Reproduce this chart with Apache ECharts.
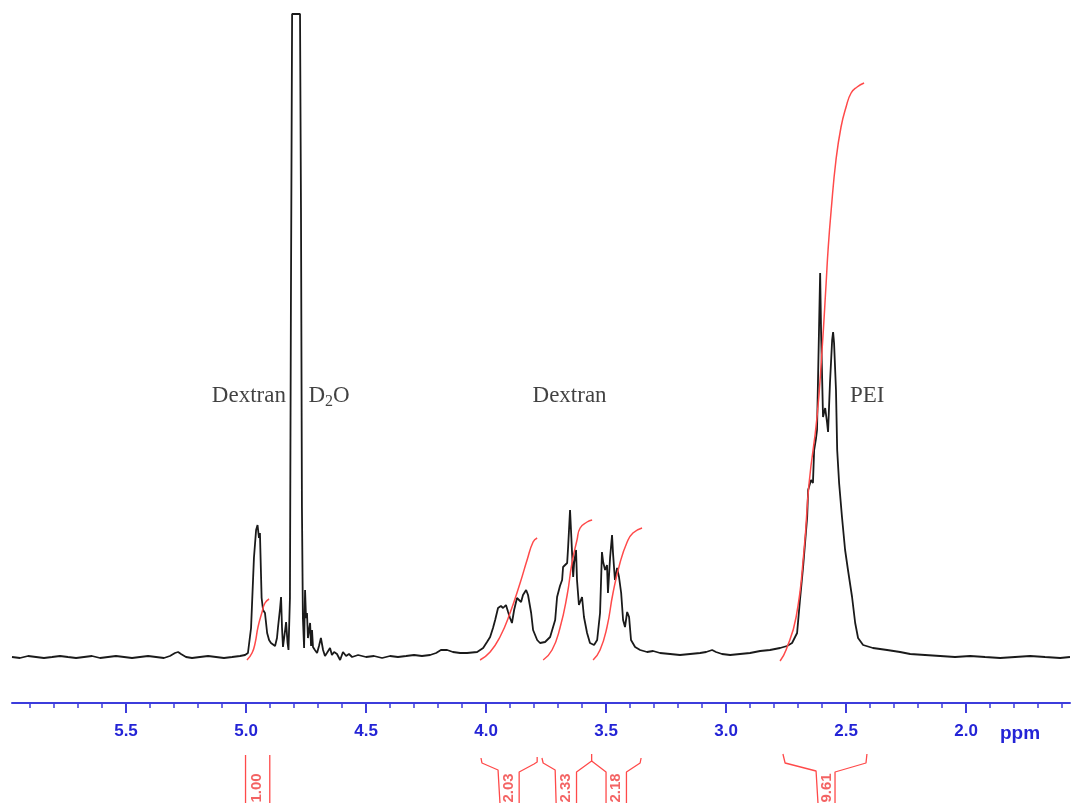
<!DOCTYPE html>
<html><head><meta charset="utf-8">
<script src="https://cdn.jsdelivr.net/npm/echarts@6/dist/echarts.min.js"></script>
<style>html,body{margin:0;padding:0;background:#fff}#c{width:1076px;height:803px}</style>
</head><body><div id="c"></div>
<script>
// chemical shift (ppm), intensity (arbitrary units, baseline = 0)
const spectrum = [
[5.975,1],[5.942,0],[5.908,2],[5.875,1],[5.842,0],[5.808,1],[5.775,2],[5.742,1],[5.708,0],[5.675,1],
[5.642,2],[5.608,0],[5.575,1],[5.542,2],[5.508,1],[5.475,0],[5.442,1],[5.408,2],[5.375,1],[5.342,0],
[5.317,2],[5.296,5],[5.283,6],[5.271,4],[5.250,1],[5.225,0],[5.192,1],[5.158,2],[5.125,1],[5.092,0],
[5.058,1],[5.025,2],[5.004,3],[4.992,5],[4.979,30],[4.967,100],[4.958,128],[4.952,133],[4.946,120],[4.942,125],
[4.935,60],[4.929,48],[4.921,45],[4.912,25],[4.904,18],[4.896,15],[4.888,17],[4.879,12],[4.871,20],[4.867,30],
[4.858,50],[4.854,61],[4.850,30],[4.846,11],[4.837,28],[4.833,36],[4.827,15],[4.823,8],[4.817,60],[4.813,350],
[4.808,644],[4.775,644],[4.771,450],[4.767,150],[4.763,40],[4.758,10],[4.754,68],[4.750,40],[4.746,45],[4.742,20],
[4.733,35],[4.729,12],[4.725,28],[4.721,11],[4.713,8],[4.704,5],[4.696,12],[4.688,20],[4.679,8],[4.671,2],
[4.663,5],[4.650,10],[4.642,3],[4.633,6],[4.621,4],[4.608,-2],[4.596,6],[4.583,2],[4.571,4],[4.558,1],
[4.533,3],[4.500,1],[4.467,2],[4.433,0],[4.400,2],[4.367,1],[4.333,2],[4.300,3],[4.267,2],[4.233,3],
[4.208,5],[4.188,8],[4.162,8],[4.138,6],[4.108,5],[4.079,5],[4.037,6],[4.012,10],[3.996,16],[3.983,21],
[3.971,30],[3.962,38],[3.950,50],[3.938,52],[3.929,50],[3.917,53],[3.908,46],[3.900,40],[3.892,35],[3.883,48],
[3.871,60],[3.854,56],[3.846,63],[3.833,68],[3.825,63],[3.812,45],[3.804,28],[3.787,18],[3.775,15],[3.754,16],
[3.733,21],[3.712,38],[3.704,61],[3.692,72],[3.683,78],[3.679,91],[3.671,90],[3.662,95],[3.658,111],[3.650,148],
[3.646,128],[3.637,81],[3.633,95],[3.625,108],[3.621,78],[3.613,53],[3.600,61],[3.592,41],[3.579,25],[3.567,15],
[3.550,13],[3.537,18],[3.525,45],[3.517,106],[3.512,96],[3.504,88],[3.496,93],[3.492,65],[3.483,101],[3.475,123],
[3.471,105],[3.463,78],[3.454,90],[3.446,81],[3.437,65],[3.429,38],[3.421,31],[3.412,46],[3.404,41],[3.396,18],
[3.379,11],[3.358,8],[3.329,6],[3.304,7],[3.275,5],[3.233,4],[3.192,3],[3.150,4],[3.108,5],[3.083,6],
[3.058,8],[3.042,6],[3.017,4],[2.983,3],[2.942,4],[2.900,5],[2.858,7],[2.817,8],[2.775,10],[2.746,12],
[2.725,15],[2.704,25],[2.692,58],[2.679,91],[2.662,141],[2.658,168],[2.646,178],[2.638,175],[2.633,208],[2.625,220],
[2.621,228],[2.613,325],[2.608,385],[2.604,325],[2.596,241],[2.587,250],[2.579,235],[2.575,226],[2.567,275],[2.558,318],
[2.554,326],[2.550,315],[2.542,268],[2.537,208],[2.529,175],[2.517,141],[2.504,108],[2.492,88],[2.475,61],[2.462,35],
[2.450,20],[2.429,13],[2.388,10],[2.329,8],[2.275,6],[2.233,4],[2.171,3],[2.108,2],[2.046,1],[1.983,2],
[1.921,1],[1.858,0],[1.796,1],[1.733,2],[1.671,1],[1.608,0],[1.567,1]
];
// integral curves (ppm, cumulative intensity)
const integral1 = [[4.996,-2],[4.975,5],[4.962,15],[4.950,31],[4.933,46],[4.921,55],[4.904,59]];
const integral2 = [[4.025,-2],[3.983,6],[3.942,21],[3.900,45],[3.858,75],[3.829,98],[3.804,116],[3.787,120]];
const integral3 = [[3.762,-2],[3.725,8],[3.692,30],[3.662,63],[3.642,95],[3.621,118],[3.608,130],[3.579,136],[3.558,138]];
const integral4 = [[3.554,-2],[3.525,8],[3.496,31],[3.471,65],[3.442,95],[3.412,116],[3.388,125],[3.350,130]];
const integral5 = [[2.775,-3],[2.750,8],[2.708,41],[2.675,108],[2.654,175],[2.621,241],[2.600,308],[2.583,375],[2.575,408],[2.562,448],[2.542,498],[2.521,531],[2.500,551],[2.479,565],[2.454,571],[2.425,575]];
// integration brackets below the axis
const brackets = [
  [[5.002,48],[5.002,0]], [[4.901,48],[4.901,0]],
  [[4.021,45],[4.017,40],[3.950,33],[3.942,31],[3.942,0]],
  [[3.862,0],[3.862,31],[3.800,39],[3.787,41],[3.787,46]],
  [[3.767,45],[3.762,40],[3.712,33],[3.708,31],[3.708,0]],
  [[3.623,0],[3.623,31],[3.560,42],[3.500,31],[3.500,0]],
  [[3.560,42],[3.560,49]],
  [[3.415,0],[3.415,31],[3.358,40],[3.354,45]],
  [[2.763,49],[2.754,40],[2.625,32],[2.617,31],[2.617,0]],
  [[2.546,0],[2.546,31],[2.417,40],[2.413,49]]
];
const integralValues = ['1.00','2.03','2.33','2.18','9.61'];
const integralLabelPpm = [4.954,3.906,3.667,3.458,2.581];
const annotations = ['Dextran','D{s|2}O','Dextran','PEI'];
const annotationPpm = [4.988,4.654,3.652,2.412];
const annotationY = [262,262,262,262];
const majorTicks = [5.5,5.0,4.5,4.0,3.5,3.0,2.5,2.0];
const minorTicks = [5.9,5.8,5.7,5.6,5.4,5.3,5.2,5.1,4.9,4.8,4.7,4.6,4.4,4.3,4.2,4.1,3.9,3.8,3.7,3.6,3.4,3.3,3.2,3.1,2.9,2.8,2.7,2.6,2.4,2.3,2.2,2.1,1.9,1.8,1.7,1.6];

const XMIN = 1.567, XMAX = 5.975;
const blue = '#3c3cdc', red = '#ff4a4a';
const chart = echarts.init(document.getElementById('c'));
const series = [];
series.push({type:'line', xAxisIndex:0, yAxisIndex:0, data:spectrum, showSymbol:false, symbol:'none',
  lineStyle:{color:'#1a1a1a', width:1.8}, clip:true, z:3});
[integral1,integral2,integral3,integral4,integral5].forEach(d=>series.push({type:'line', xAxisIndex:0, yAxisIndex:0,
  data:d, smooth:0.5, symbol:'none', lineStyle:{color:red, width:1.5}, z:4}));
brackets.forEach(d=>series.push({type:'line', xAxisIndex:2, yAxisIndex:1, data:d, symbol:'none',
  lineStyle:{color:red, width:1.3}}));
series.push({type:'scatter', xAxisIndex:2, yAxisIndex:1, symbolSize:0,
  data: integralValues.map((t,i)=>[integralLabelPpm[i],15,t]),
  label:{show:true, position:'inside', rotate:90, formatter:p=>p.value[2],
    color:'#f03c3c', fontFamily:'Liberation Sans, Arial', fontSize:15, fontWeight:'bold'}});
series.push({type:'scatter', xAxisIndex:0, yAxisIndex:0, symbolSize:0,
  data: annotations.map((t,i)=>[annotationPpm[i],annotationY[i],t]),
  label:{show:true, position:'inside', formatter:p=>p.value[2], color:'#111',
    fontFamily:'Liberation Serif, Times New Roman', fontSize:23,
    rich:{s:{fontFamily:'Liberation Serif', fontSize:16, padding:[12,0,0,0], color:'#111'}}}});

chart.setOption({
  animation:false,
  backgroundColor:'#fff',
  grid:[{left:12, right:6, top:14, bottom:100},{left:12, right:6, top:740, bottom:0}],
  xAxis:[
    {gridIndex:0, type:'value', inverse:true, min:XMIN, max:XMAX, position:'bottom',
     axisLine:{onZero:false, lineStyle:{color:blue, width:2}},
     axisTick:{customValues:majorTicks, length:10, lineStyle:{color:blue, width:2}},
     axisLabel:{customValues:majorTicks, formatter:v=>v.toFixed(1), color:'#2424d6', fontWeight:'bold',
       fontFamily:'Liberation Sans, Arial', fontSize:17, margin:20},
     splitLine:{show:false}},
    {gridIndex:0, type:'value', inverse:true, min:XMIN, max:XMAX, position:'bottom',
     axisLine:{show:false, onZero:false},
     axisTick:{customValues:minorTicks, length:5, lineStyle:{color:blue, width:1.5}},
     axisLabel:{show:false}, splitLine:{show:false}},
    {gridIndex:1, type:'value', inverse:true, min:XMIN, max:XMAX, show:false}
  ],
  yAxis:[{gridIndex:0, type:'value', min:-45, max:644, show:false},
         {gridIndex:1, type:'value', min:0, max:63, show:false}],
  graphic:[{type:'text', left:1000, top:724, style:{text:'ppm', fill:'#2424d6',
    font:'bold 19px "Liberation Sans", Arial'}}],
  series
});
</script></body></html>
